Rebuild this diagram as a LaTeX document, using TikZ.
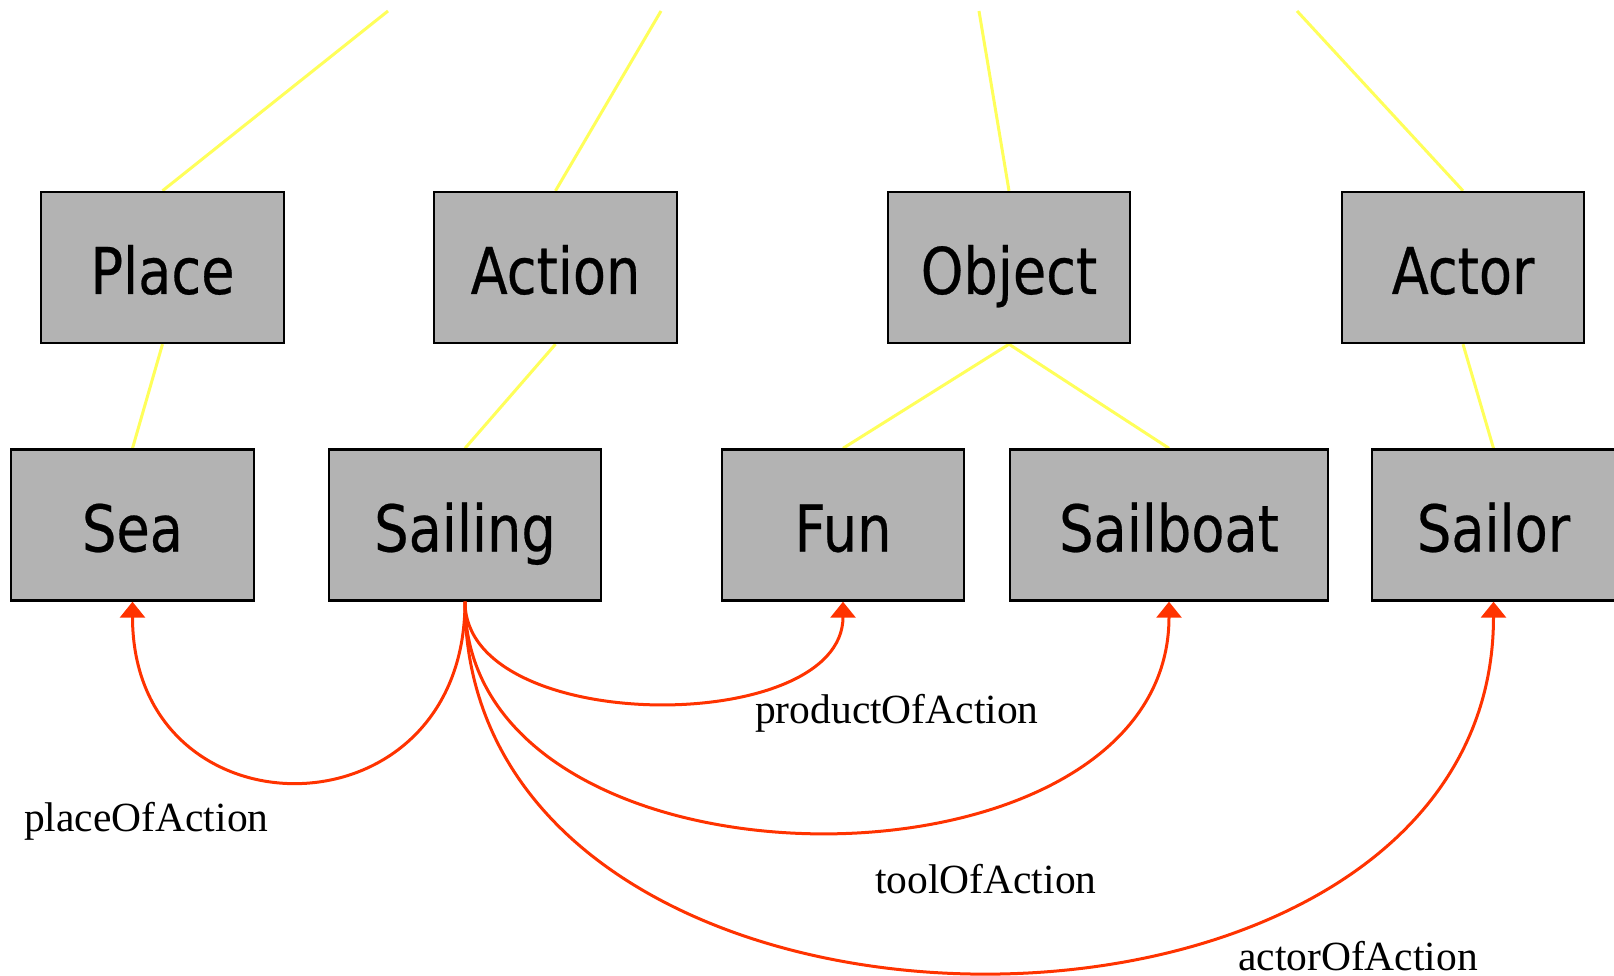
\documentclass[tikz,border=0pt]{standalone}
\usepackage{fontspec}
\setmainfont{Liberation Serif}
\newfontfamily\boxfont[FakeStretch=0.84,FakeBold=0.4]{DejaVu Sans}
\usetikzlibrary{arrows.meta,backgrounds}
\definecolor{boxgray}{RGB}{179,179,179}
\definecolor{linkyellow}{RGB}{255,255,90}
\definecolor{relred}{RGB}{255,51,0}
\begin{document}
\begin{tikzpicture}[x=1pt,y=-1pt,
  concept/.style={draw=black, line width=2.4pt, fill=boxgray, inner sep=0pt,
    minimum height=151pt, font=\boxfont\fontsize{64.5}{70}\selectfont,
    text height=53pt, text depth=0pt},
  isa/.style={draw=linkyellow, line width=3pt},
  rel/.style={draw=relred, line width=3pt, -{Triangle[length=16pt,width=25pt]}},
  rellabel/.style={font=\fontsize{41.5}{45}\selectfont, anchor=base west, inner sep=0pt}]
\useasboundingbox (0,0) rectangle (1614,976);

% concept boxes
\node[concept, minimum width=243pt] (place)    at (162.5,267.5) {Place};
\node[concept, minimum width=243pt] (action)   at (555.5,267.5) {Action};
\node[concept, minimum width=242pt] (object)   at (1009,267.5)  {Object};
\node[concept, minimum width=242pt] (actor)    at (1463,267.5)  {Actor};
\node[concept, minimum width=243pt] (sea)      at (132.5,525)   {Sea};
\node[concept, minimum width=272pt] (sailing)  at (465,525)     {Sailing};
\node[concept, minimum width=242pt] (fun)      at (843,525)     {Fun};
\node[concept, minimum width=318pt] (sailboat) at (1169,525)    {Sailboat};
\node[concept, minimum width=243pt] (sailor)   at (1493.5,525)  {Sailor};

% free ends of the upper links
\coordinate (tplace)  at (388,11);
\coordinate (taction) at (661,11);
\coordinate (tobject) at (979,11);
\coordinate (tactor)  at (1297,11);

\begin{scope}[on background layer]
  \draw[isa] (tplace)  -- (place.north);
  \draw[isa] (taction) -- (action.north);
  \draw[isa] (tobject) -- (object.north);
  \draw[isa] (tactor)  -- (actor.north);
  \draw[isa] (place.south)  -- (sea.north);
  \draw[isa] (action.south) -- (sailing.north);
  \draw[isa] (object.south) -- (fun.north);
  \draw[isa] (object.south) -- (sailboat.north);
  \draw[isa] (actor.south)  -- (sailor.north);
\end{scope}

% relations
\draw[rel] (sailing.south) .. controls +(0,240) and +(0,240) .. (sea.south);
\draw[rel] (sailing.south) .. controls +(0,135) and +(0,135) .. (fun.south);
\draw[rel] (sailing.south) .. controls +(0,307) and +(0,307) .. (sailboat.south);
\draw[rel] (sailing.south) .. controls +(0,494) and +(0,494) .. (sailor.south);

% relation labels
\node[rellabel] (lplace)   at (24,831.5) {placeOfAction};
\node[rellabel] (lproduct) at (755,723)  {productOfAction};
\node[rellabel] (ltool)    at (875,893)  {toolOfAction};
\node[rellabel] (lactor)   at (1238,970) {actorOfAction};
\end{tikzpicture}
\end{document}
